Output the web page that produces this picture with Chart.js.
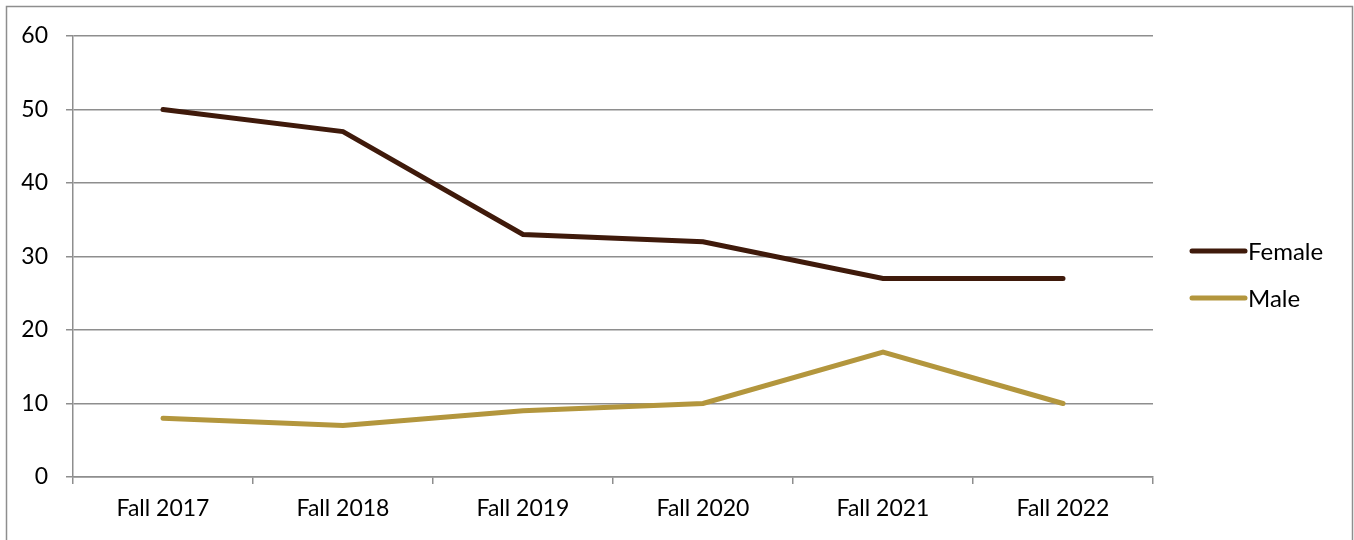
<!DOCTYPE html>
<html lang="en">
<head>
  <meta charset="UTF-8">
  <title>Enrollment by Gender</title>
  <script src="https://cdn.jsdelivr.net/npm/chart.js"></script>
  <style>
    body {
      margin: 0;
      background: #fff;
    }
    #wrap {
      width: 1354px;
      height: 540px;
    }
  </style>
</head>
<body>
<div id="wrap">
<canvas id="grafico"></canvas>
</div>

<script>
  const terms = ['Fall 2017', 'Fall 2018', 'Fall 2019', 'Fall 2020', 'Fall 2021', 'Fall 2022'];
  const female = [50, 47, 33, 32, 27, 27];
  const male = [8, 7, 9, 10, 17, 10];
  const yTicks = [0, 10, 20, 30, 40, 50, 60];

  const gridColor = '#8e8e8e';
  const fontFamily = 'Lato, "Open Sans", sans-serif';

  // frame around the whole figure (bottom edge falls off the canvas)
  const framePlugin = {
    id: 'frame',
    beforeDraw(chart) {
      const c = chart.ctx;
      c.save();
      c.strokeStyle = '#8e8e8e';
      c.lineWidth = 1.5;
      c.strokeRect(6.5, 6.5, chart.width - 8, chart.height + 10);
      c.restore();
    }
  };

  // legend on the right: short thick line followed by the series name
  const sideLegend = {
    id: 'sideLegend',
    afterDraw(chart) {
      const c = chart.ctx;
      const x0 = chart.chartArea.right + 39;
      const rows = [251, 298];
      c.save();
      c.font = '24px ' + fontFamily;
      c.textBaseline = 'middle';
      c.fillStyle = '#000';
      chart.data.datasets.forEach((ds, i) => {
        const y = rows[i];
        c.strokeStyle = ds.borderColor;
        c.lineWidth = 5;
        c.lineCap = 'round';
        c.beginPath();
        c.moveTo(x0, y);
        c.lineTo(x0 + 53, y);
        c.stroke();
        c.fillText(ds.label, x0 + 56, y + 1);
      });
      c.restore();
    }
  };

  const ctx = document.getElementById('grafico').getContext('2d');

  new Chart(ctx, {
    type: 'line',
    data: {
      labels: terms,
      datasets: [{
        label: 'Female',
        data: female,
        borderColor: '#3f1a0b',
        borderWidth: 5,
        borderCapStyle: 'round',
        borderJoinStyle: 'miter',
        pointRadius: 0,
        tension: 0
      }, {
        label: 'Male',
        data: male,
        borderColor: '#b3963d',
        borderWidth: 5,
        borderCapStyle: 'round',
        borderJoinStyle: 'miter',
        pointRadius: 0,
        tension: 0
      }]
    },
    options: {
      responsive: true,
      maintainAspectRatio: false,
      animation: false,
      layout: {
        padding: { top: 36, right: 201, bottom: 0, left: 0 }
      },
      plugins: {
        legend: { display: false },
        tooltip: { enabled: false }
      },
      scales: {
        x: {
          offset: true,
          grid: {
            offset: true,
            drawOnChartArea: false,
            drawTicks: true,
            tickLength: 7,
            color: gridColor,
            lineWidth: 1.5
          },
          border: { color: gridColor, width: 1.5 },
          ticks: {
            color: '#000',
            padding: 11,
            maxRotation: 0,
            font: { family: fontFamily, size: 23 }
          },
          afterFit(scale) { scale.height = 63; }
        },
        y: {
          min: 0,
          max: 60,
          afterBuildTicks(scale) {
            scale.ticks = yTicks.map(v => ({ value: v }));
          },
          grid: {
            color: gridColor,
            lineWidth: 1.5,
            tickLength: 7
          },
          border: { color: gridColor, width: 1.5 },
          ticks: {
            color: '#000',
            padding: 18,
            font: { family: fontFamily, size: 23 }
          },
          afterFit(scale) { scale.width = 73; }
        }
      }
    },
    plugins: [framePlugin, sideLegend]
  });
</script>

</body>
</html>
